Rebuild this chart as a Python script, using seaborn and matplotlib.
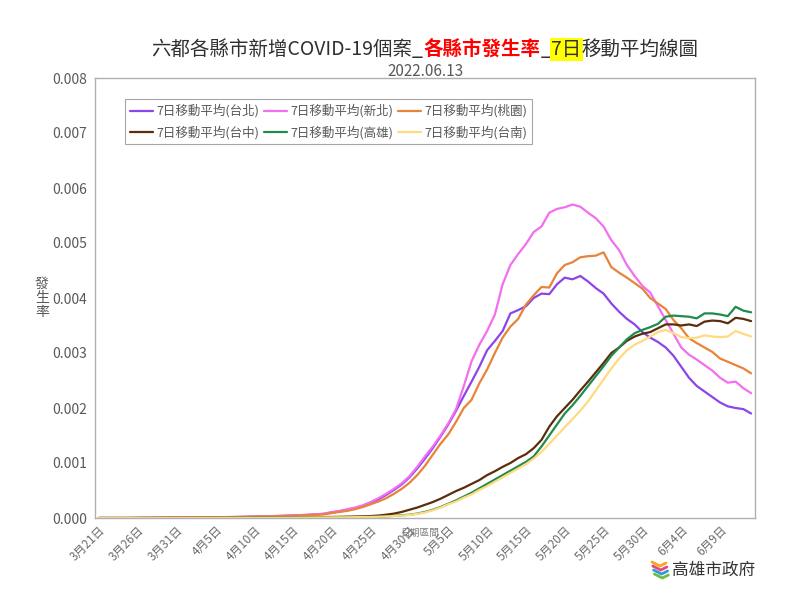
import numpy as np
import pandas as pd
import matplotlib
matplotlib.use("Agg")
import matplotlib.pyplot as plt
from matplotlib.lines import Line2D
from matplotlib.ticker import FuncFormatter
import seaborn as sns

# ---------------- data (values in units of 0.001) ----------------
n_days = 85

taipei = [0,0,0,0,0,0.002,0.003,0.004,0.005,0.006,
          0.007,0.008,0.009,0.010,0.012,0.013,0.015,0.017,0.019,0.022,
          0.025,0.028,0.032,0.036,0.040,0.045,0.051,0.058,0.066,0.075,
          0.10,0.12,0.15,0.18,0.22,0.28,0.34,0.42,0.51,0.61,
          0.74,0.90,1.08,1.27,1.48,1.70,1.95,2.22,2.48,2.75,
          3.05,3.22,3.40,3.72,3.78,3.85,4.00,4.08,4.07,4.25,
          4.37,4.34,4.40,4.30,4.18,4.08,3.90,3.75,3.62,3.52,
          3.38,3.28,3.20,3.10,2.95,2.75,2.55,2.40,2.30,2.20,
          2.10,2.03,2.00,1.98,1.90]
xinbei = [0,0,0,0,0,0.002,0.003,0.004,0.005,0.006,
          0.007,0.008,0.009,0.010,0.012,0.014,0.016,0.018,0.020,0.023,
          0.026,0.029,0.033,0.037,0.042,0.047,0.053,0.060,0.068,0.078,
          0.11,0.13,0.16,0.19,0.23,0.29,0.36,0.44,0.53,0.63,
          0.76,0.93,1.12,1.30,1.50,1.72,1.98,2.40,2.85,3.15,
          3.40,3.70,4.25,4.60,4.80,4.98,5.20,5.30,5.55,5.62,
          5.65,5.70,5.66,5.55,5.45,5.30,5.05,4.87,4.60,4.40,
          4.22,4.10,3.85,3.60,3.35,3.10,2.97,2.88,2.78,2.68,
          2.55,2.46,2.48,2.36,2.27]
taoyuan = [0,0,0,0,0,0.002,0.002,0.003,0.004,0.005,
           0.006,0.007,0.008,0.009,0.010,0.012,0.013,0.015,0.017,0.019,
           0.022,0.025,0.028,0.031,0.035,0.040,0.045,0.051,0.058,0.066,
           0.09,0.11,0.13,0.16,0.20,0.25,0.30,0.36,0.44,0.53,
           0.64,0.78,0.95,1.15,1.35,1.52,1.75,2.00,2.15,2.45,
           2.70,3.00,3.28,3.48,3.62,3.88,4.05,4.20,4.19,4.45,
           4.60,4.65,4.74,4.76,4.77,4.83,4.56,4.46,4.37,4.27,
           4.17,4.00,3.90,3.80,3.60,3.45,3.27,3.18,3.10,3.02,
           2.90,2.84,2.78,2.72,2.63]
taichung = [0,0,0,0,0,0,0.001,0.001,0.001,0.002,
            0.002,0.002,0.003,0.003,0.003,0.004,0.004,0.005,0.005,0.006,
            0.007,0.007,0.008,0.009,0.010,0.011,0.012,0.013,0.015,0.017,
            0.019,0.021,0.024,0.027,0.030,0.035,0.045,0.06,0.08,0.11,
            0.15,0.19,0.24,0.29,0.35,0.42,0.49,0.55,0.62,0.69,
            0.78,0.85,0.93,1.00,1.09,1.16,1.27,1.42,1.66,1.85,
            2.00,2.15,2.32,2.48,2.65,2.82,3.00,3.10,3.22,3.30,
            3.35,3.38,3.45,3.52,3.52,3.50,3.52,3.49,3.57,3.59,
            3.58,3.54,3.64,3.62,3.58]
kaohsiung = [0,0,0,0,0,0,0.001,0.001,0.001,0.001,
             0.001,0.001,0.002,0.002,0.002,0.002,0.003,0.003,0.003,0.004,
             0.004,0.004,0.005,0.005,0.006,0.006,0.007,0.008,0.009,0.010,
             0.011,0.012,0.014,0.016,0.018,0.020,0.025,0.03,0.04,0.05,
             0.06,0.08,0.11,0.15,0.20,0.26,0.32,0.39,0.46,0.54,
             0.62,0.70,0.78,0.86,0.94,1.02,1.12,1.30,1.50,1.70,
             1.90,2.05,2.22,2.40,2.58,2.76,2.95,3.10,3.25,3.36,
             3.42,3.47,3.53,3.66,3.68,3.67,3.66,3.63,3.72,3.72,
             3.70,3.67,3.84,3.77,3.74]
tainan = [0,0,0,0,0,0,0.001,0.001,0.001,0.001,
          0.001,0.001,0.002,0.002,0.002,0.002,0.003,0.003,0.003,0.004,
          0.004,0.004,0.005,0.005,0.006,0.006,0.007,0.008,0.009,0.010,
          0.011,0.012,0.013,0.015,0.017,0.019,0.023,0.028,0.036,0.045,
          0.055,0.075,0.10,0.14,0.19,0.25,0.30,0.37,0.43,0.51,
          0.58,0.66,0.74,0.82,0.90,0.98,1.08,1.20,1.35,1.50,
          1.65,1.80,1.95,2.12,2.32,2.52,2.72,2.90,3.05,3.15,
          3.22,3.30,3.38,3.42,3.36,3.29,3.27,3.28,3.32,3.30,
          3.29,3.30,3.40,3.35,3.30]

series_names = ["7日移動平均(台北)", "7日移動平均(新北)", "7日移動平均(桃園)",
                "7日移動平均(台中)", "7日移動平均(高雄)", "7日移動平均(台南)"]
series_values = [taipei, xinbei, taoyuan, taichung, kaohsiung, tainan]
series_colors = ["#8B45E8", "#F36EF0", "#E8833A", "#5A2D0C", "#1F8B4C", "#FFDB7F"]

dates = pd.date_range("2022-03-21", periods=n_days, freq="D")
date_labels = [f"{d.month}月{d.day}日" for d in dates]

title_parts = [("六都各縣市新增COVID-19個案_", "#303030", None, "normal"),
               ("各縣市發生率", "#FF0000", None, "bold"),
               ("_", "#303030", None, "normal"),
               ("7日", "#303030", "#FFFF00", "normal"),
               ("移動平均線圖", "#303030", None, "normal")]
subtitle = "2022.06.13"

# ---------------- build table ----------------
rows = []
for name, vals in zip(series_names, series_values):
    for i, v in enumerate(vals):
        rows.append({"day": i, "rate": v / 1000.0, "series": name})
df = pd.DataFrame(rows)

# ---------------- style ----------------
sns.set_theme(style="white")
FONT = ["Noto Sans CJK TC", "DejaVu Sans"]
plt.rcParams["font.family"] = FONT
GRAY = "#595959"

fig = plt.figure(figsize=(8, 6), dpi=100)
ax = fig.add_axes([95/800, 1 - 518/600, 660/800, 440/600])

sns.lineplot(data=df, x="day", y="rate", hue="series", hue_order=series_names,
             palette=dict(zip(series_names, series_colors)), linewidth=1.6,
             ax=ax, legend=True)

ax.set_xlim(-0.5, n_days - 0.5)
ax.set_ylim(0, 0.008)
ax.set_yticks(np.arange(0, 0.0081, 0.001))
ax.yaxis.set_major_formatter(FuncFormatter(lambda v, p: f"{v:.3f}"))
ax.tick_params(axis="y", labelsize=10, labelcolor=GRAY, length=0, pad=6)

tick_pos = list(range(0, n_days - 4, 5))
ax.set_xticks(tick_pos)
ax.set_xticklabels([date_labels[i] for i in tick_pos], rotation=45, ha="right",
                   rotation_mode="anchor", fontsize=8.5, color="#6B6B6B")
ax.tick_params(axis="x", length=0, pad=4)
ax.set_xlabel("")
ax.set_ylabel("")

for s in ax.spines.values():
    s.set_color("#B0B0B0")
    s.set_linewidth(1.0)
    s.set_visible(True)

# legend filled row by row (3 columns x 2 rows)
handles, labels = ax.get_legend_handles_labels()
hmap = dict(zip(labels, handles))
order = [0, 3, 1, 4, 2, 5]
leg = ax.legend([hmap[series_names[i]] for i in order],
                [series_names[i] for i in order],
                loc="upper left", bbox_to_anchor=(0.036, 0.966), ncol=3,
                fontsize=9, frameon=True, fancybox=False, framealpha=1,
                edgecolor="#A6A6A6", handlelength=1.8, handletextpad=0.3,
                columnspacing=0.4, borderpad=0.4, labelspacing=0.6)
leg.get_frame().set_linewidth(0.8)
for t in leg.get_texts():
    t.set_color(GRAY)
for h in leg.get_lines():
    h.set_linewidth(1.6)

# x-axis title (overlapping labels as in original)
fig.text(420/800, 1 - 533/600, "日期區間", fontsize=7, color="#7F7F7F",
         ha="center", va="center")

# y label stacked characters
fig.text(42/800, 1 - 298/600, "發\n生\n率", fontsize=10, color=GRAY,
         ha="center", va="center", linespacing=1.0)

# ---------------- title with coloured parts ----------------
renderer = fig.canvas.get_renderer()
texts = []
for s, c, bg, w in title_parts:
    kw = {}
    if bg:
        kw["bbox"] = dict(facecolor=bg, edgecolor="none", pad=0.8)
    t = fig.text(0, 0, s, color=c, fontsize=14, fontweight=w, ha="left",
                 va="baseline", **kw)
    texts.append(t)
widths = [t.get_window_extent(renderer).width for t in texts]
x = 425 - sum(widths) / 2
for t, wd in zip(texts, widths):
    t.set_position((x / 800, 1 - 55/600))
    x += wd

fig.text(425/800, 1 - 71/600, subtitle, fontsize=11, color=GRAY,
         ha="center", va="center")

# ---------------- logo ----------------
fig.text(714/800, 1 - 570/600, "高雄市政府", fontsize=12, color="#333333",
         ha="center", va="center")
logo_cols = ["#F5A623", "#E8467C", "#2E9BD6", "#6BBE45"]
for k, c in enumerate(logo_cols):
    xs = np.array([652, 660, 666]) + k * 0.8
    ys = np.array([562, 566, 563]) + k * 4
    fig.add_artist(Line2D(xs / 800, 1 - ys / 600, color=c, linewidth=2,
                          transform=fig.transFigure))

fig.savefig("out.png", dpi=100, facecolor="white")
